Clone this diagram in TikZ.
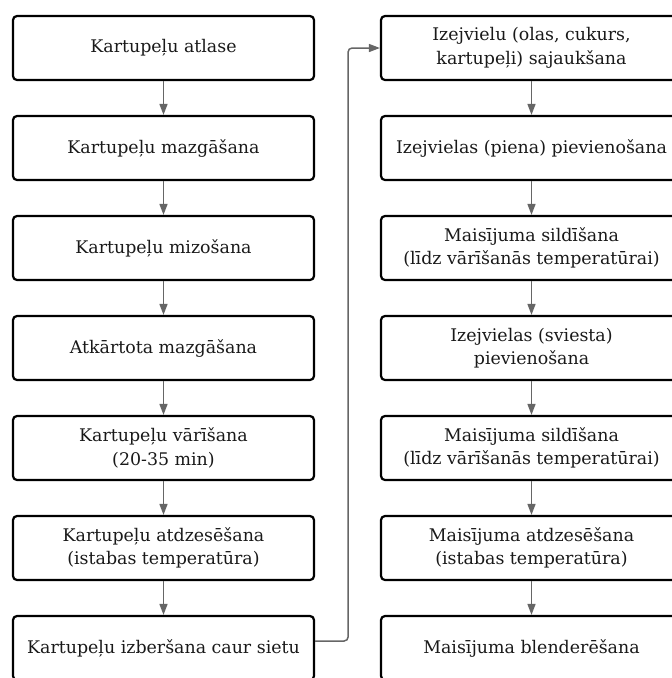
\documentclass[tikz,border=0pt]{standalone}
\usepackage{fontspec}
\setmainfont{DejaVu Serif}
\usetikzlibrary{arrows.meta,positioning}
\begin{document}
\begin{tikzpicture}[x=1pt,y=-1pt,
  stepbox/.style={draw=black,line width=2.2pt,rounded corners=4pt,minimum width=301pt,minimum height=64pt,
    align=center,inner sep=0pt,font=\fontsize{17.4}{23.5}\selectfont,text=black!90},
  flow/.style={draw=black!60,line width=1.5pt,-{Triangle[width=8pt,length=11pt]}},
  link/.style={draw=black!60,line width=1.5pt,rounded corners=4pt,-{Triangle[width=8pt,length=11pt]}}]
\useasboundingbox (0,0) rectangle (672,678);
\clip (0,0) rectangle (672,678);
\node[stepbox] (l1) at (163.5,48) {Kartupeļu atlase};
\node[stepbox] (l2) at (163.5,148) {Kartupeļu mazgāšana};
\node[stepbox] (l3) at (163.5,248) {Kartupeļu mizošana};
\node[stepbox] (l4) at (163.5,348) {Atkārtota mazgāšana};
\node[stepbox] (l5) at (163.5,448) {Kartupeļu vārīšana\\(20-35 min)};
\node[stepbox] (l6) at (163.5,548) {Kartupeļu atdzesēšana\\(istabas temperatūra)};
\node[stepbox] (l7) at (163.5,648) {Kartupeļu izberšana caur sietu};
\node[stepbox] (r1) at (531.5,48) {Izejvielu (olas, cukurs,\\kartupeļi) sajaukšana};
\node[stepbox] (r2) at (531.5,148) {Izejvielas (piena) pievienošana};
\node[stepbox] (r3) at (531.5,248) {Maisījuma sildīšana\\(līdz vārīšanās temperatūrai)};
\node[stepbox] (r4) at (531.5,348) {Izejvielas (sviesta)\\pievienošana};
\node[stepbox] (r5) at (531.5,448) {Maisījuma sildīšana\\(līdz vārīšanās temperatūrai)};
\node[stepbox] (r6) at (531.5,548) {Maisījuma atdzesēšana\\(istabas temperatūra)};
\node[stepbox] (r7) at (531.5,648) {Maisījuma blenderēšana};
\foreach \a/\b in {l1/l2,l2/l3,l3/l4,l4/l5,l5/l6,l6/l7,r1/r2,r2/r3,r3/r4,r4/r5,r5/r6,r6/r7}
  \draw[flow] (\a.south) -- (\b.north);
\coordinate (out) at ([yshift=7pt]l7.east);
\draw[link] (out) -- ++(33,0) |- (r1.west);
\end{tikzpicture}
\end{document}
